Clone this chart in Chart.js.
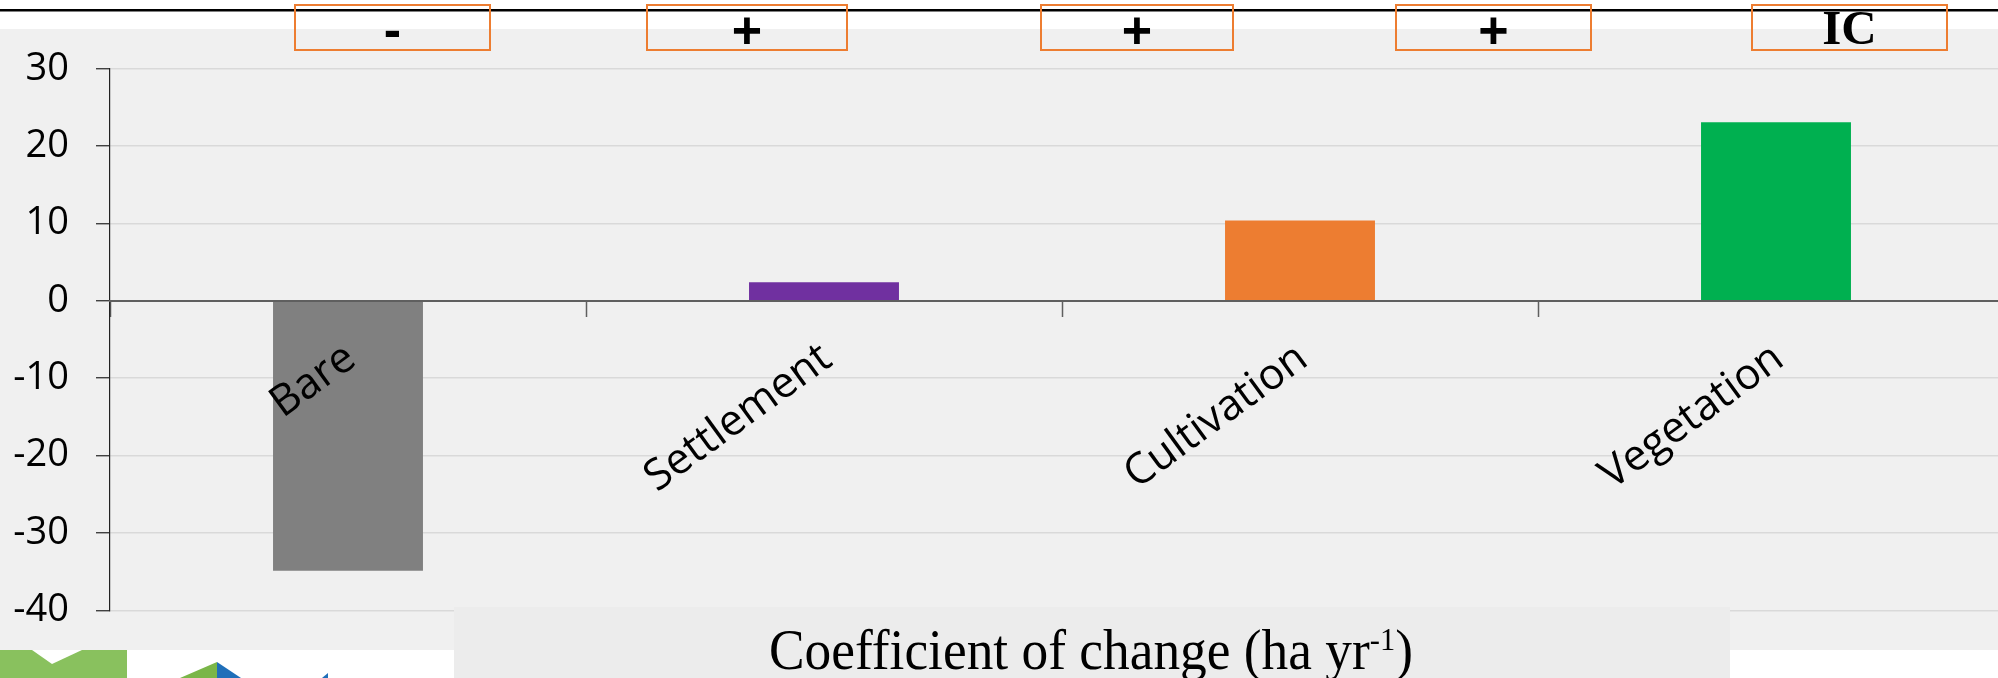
<!DOCTYPE html>
<html>
<head>
<meta charset="utf-8">
<script src="https://cdn.jsdelivr.net/npm/chart.js@4.4.1/dist/chart.umd.min.js"></script>
<style>
  html, body { margin: 0; padding: 0; width: 1998px; height: 678px; overflow: hidden; background: #ffffff; }
  canvas { display: block; }
</style>
</head>
<body>
<canvas id="chart" width="2030" height="678"></canvas>
<script>
// Land-cover classes and their rate of change (ha per year)
const categories = ['Bare', 'Settlement', 'Cultivation', 'Vegetation'];
const coefficients = [-34.9, 2.4, 10.4, 23.1];
const barColors = ['#808080', '#7030a0', '#ed7d31', '#00b050'];

// Value axis range and tick spacing
const yMin = -40;
const yMax = 30;
const yStep = 10;

// Trend markers shown in the boxes along the top
const trendSigns = ['-', '+', '+', '+', 'IC'];

// Caption below the plot: main text, superscript, closing text
const captionMain = 'Coefficient of change (ha yr';
const captionSup = '-1';
const captionEnd = ')';

// Layout of the page furniture (pixels)
const markerBoxes = [[294, 491], [646, 848], [1040, 1234], [1395, 1592], [1751, 1948]];
const markerTop = 4, markerBottom = 51;
const markerInkCenterY = { '-': 33, '+': 30.3 };
const icBaseline = 44.3;

const pageDecor = {
  id: 'pageDecor',
  beforeDraw(chart) {
    const ctx = chart.ctx;
    ctx.save();
    ctx.fillStyle = '#ffffff';
    ctx.fillRect(0, 0, chart.width, chart.height);
    ctx.fillStyle = '#f0f0f0';
    ctx.fillRect(0, 29, chart.width, 621);
    ctx.fillStyle = '#000000';
    ctx.fillRect(0, 9, chart.width, 2.5);
    ctx.restore();
  },
  afterDraw(chart) {
    const ctx = chart.ctx;
    ctx.save();

    // white strip along the bottom edge
    ctx.fillStyle = '#ffffff';
    ctx.fillRect(0, 650, chart.width, 28);

    // caption panel
    ctx.fillStyle = '#ececec';
    ctx.fillRect(454, 607, 1276, 71);
    const mainFont = '56px "Liberation Serif"';
    const supFont = '32px "Liberation Serif"';
    ctx.font = mainFont;
    const wMain = ctx.measureText(captionMain).width;
    const wEnd = ctx.measureText(captionEnd).width;
    ctx.font = supFont;
    const wSup = ctx.measureText(captionSup).width;
    const natural = wMain + wSup + wEnd;
    const targetWidth = 644;
    const sx = targetWidth / natural;
    ctx.save();
    ctx.translate(1091 - targetWidth / 2, 0);
    ctx.scale(sx, 1);
    ctx.fillStyle = '#000000';
    ctx.textBaseline = 'alphabetic';
    ctx.textAlign = 'left';
    ctx.font = mainFont;
    ctx.fillText(captionMain, 0, 669);
    ctx.font = supFont;
    ctx.fillText(captionSup, wMain, 650);
    ctx.font = mainFont;
    ctx.fillText(captionEnd, wMain + wSup, 669);
    ctx.restore();

    // logo fragment in the lower left corner
    ctx.fillStyle = '#89c15e';
    ctx.fillRect(0, 650, 127, 28);
    ctx.fillStyle = '#ffffff';
    ctx.beginPath();
    ctx.moveTo(32, 650); ctx.lineTo(52, 664); ctx.lineTo(82, 650); ctx.closePath();
    ctx.fill();
    ctx.fillStyle = '#7ab648';
    ctx.beginPath();
    ctx.moveTo(180, 678); ctx.lineTo(217, 662); ctx.lineTo(217, 678); ctx.closePath();
    ctx.fill();
    ctx.fillStyle = '#1f6fb9';
    ctx.beginPath();
    ctx.moveTo(217, 662); ctx.lineTo(241, 678); ctx.lineTo(217, 678); ctx.closePath();
    ctx.fill();
    ctx.beginPath();
    ctx.moveTo(322, 678); ctx.lineTo(328, 673); ctx.lineTo(328, 678); ctx.closePath();
    ctx.fill();

    // trend marker boxes
    ctx.strokeStyle = '#ed7d31';
    ctx.lineWidth = 2;
    ctx.fillStyle = '#000000';
    ctx.textAlign = 'center';
    ctx.textBaseline = 'alphabetic';
    markerBoxes.forEach(([l, r], i) => {
      ctx.strokeRect(l + 1, markerTop + 1, r - l - 2, markerBottom - markerTop - 2);
      const sign = trendSigns[i];
      const cx = (l + r) / 2;
      if (sign === 'IC') {
        ctx.font = 'bold 49px "Liberation Serif"';
        ctx.fillText(sign, cx, icBaseline);
      } else {
        ctx.font = 'bold 52px "Liberation Sans"';
        const m = ctx.measureText(sign);
        const base = markerInkCenterY[sign] + (m.actualBoundingBoxAscent - m.actualBoundingBoxDescent) / 2;
        ctx.fillText(sign, cx, base);
      }
    });

    ctx.restore();
  }
};

function drawChart() {
  const ctx = document.getElementById('chart').getContext('2d');
  new Chart(ctx, {
    type: 'bar',
    data: {
      labels: categories,
      datasets: [{
        data: coefficients,
        backgroundColor: barColors,
        borderWidth: 0,
        barPercentage: 0.315,
        categoryPercentage: 1
      }]
    },
    options: {
      responsive: false,
      animation: false,
      devicePixelRatio: 1,
      layout: { padding: { top: 68.8, bottom: 67.7, left: 0, right: 16 } },
      plugins: {
        legend: { display: false },
        tooltip: { enabled: false }
      },
      scales: {
        x: {
          position: { y: 0 },
          offset: true,
          grid: {
            drawOnChartArea: false,
            drawTicks: true,
            tickLength: 15,
            tickColor: '#5f5f5f',
            tickWidth: 1.5,
            offset: true
          },
          border: { display: true, color: '#5f5f5f', width: 2, z: 1 },
          ticks: {
            font: { family: '"Open Sans"', size: 43 },
            color: '#000000',
            minRotation: 36,
            maxRotation: 36,
            padding: 17,
            labelOffset: 3,
            autoSkip: false,
            z: 1
          }
        },
        y: {
          min: yMin,
          max: yMax,
          ticks: {
            stepSize: yStep,
            font: { family: '"Open Sans"', size: 38 },
            color: '#000000',
            padding: 27
          },
          grid: {
            color: '#d9d9d9',
            lineWidth: 1.5,
            tickLength: 14,
            tickColor: '#222222',
            tickWidth: 1.2
          },
          border: { color: '#222222', width: 1.2 },
          afterFit(scale) { scale.width = 110; }
        }
      }
    },
    plugins: [pageDecor]
  });
}

const fontSpecs = ['38px "Open Sans"', '43px "Open Sans"', '56px "Liberation Serif"',
  'bold 49px "Liberation Serif"', 'bold 52px "Liberation Sans"'];
Promise.all(fontSpecs.map(f => document.fonts.load(f))).catch(() => {}).then(drawChart);
</script>
</body>
</html>
